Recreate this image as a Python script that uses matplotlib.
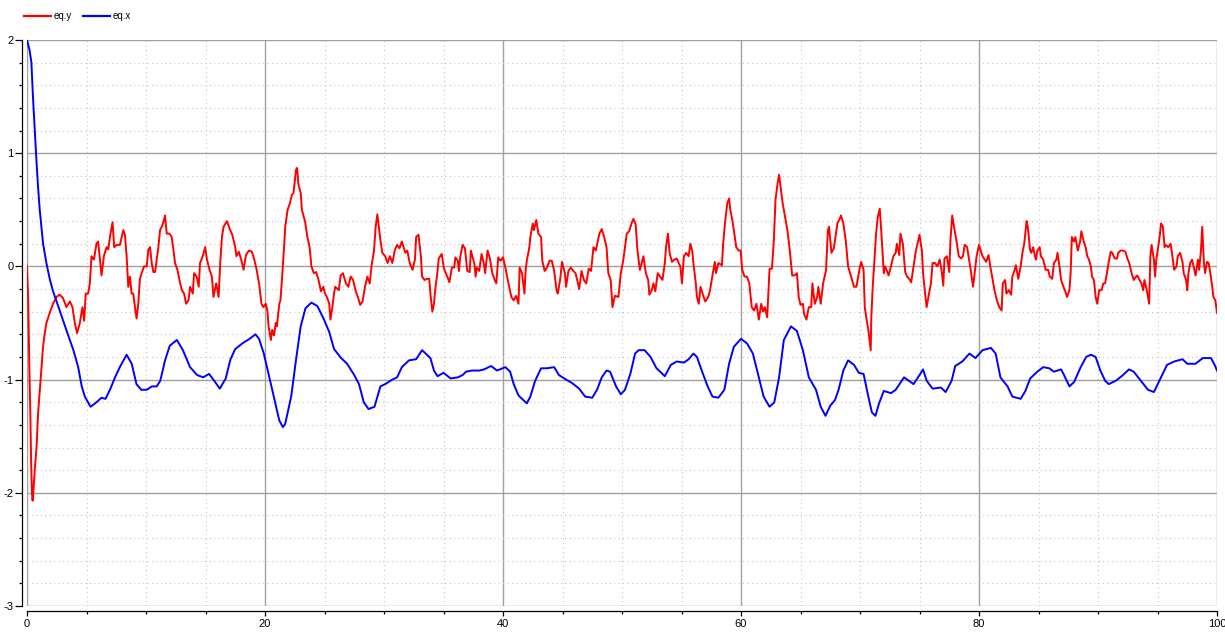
import matplotlib
matplotlib.use("Agg")
import matplotlib.pyplot as plt
import matplotlib.transforms as mtransforms
from matplotlib.ticker import MultipleLocator

plt.rcParams["font.family"] = ["Liberation Sans", "DejaVu Sans"]
plt.rcParams["axes.unicode_minus"] = False

# eq.y (red, noisy) as (time, value) pairs
red = [
    (0.0, 0.0), (0.1, -0.3), (0.2, -0.9), (0.28, -1.3), (0.35, -1.75), (0.42, -2.0),
    (0.47, -2.07), (0.55, -1.97), (0.65, -1.8), (0.8, -1.6), (0.93, -1.3), (1.07, -1.1),
    (1.21, -0.9), (1.35, -0.71), (1.49, -0.59), (1.63, -0.50), (1.91, -0.41), (2.19, -0.33),
    (2.47, -0.27), (2.75, -0.25), (3.03, -0.28), (3.31, -0.36), (3.6, -0.31), (3.82, -0.36),
    (4.02, -0.5), (4.21, -0.59), (4.44, -0.50), (4.66, -0.36), (4.8, -0.48), (4.94, -0.24),
    (5.14, -0.24), (5.28, -0.15), (5.42, 0.09), (5.62, 0.06), (5.84, 0.20), (5.98, 0.22),
    (6.26, -0.08), (6.46, 0.09), (6.69, 0.17), (6.83, 0.15), (6.97, 0.26), (7.19, 0.39),
    (7.33, 0.17), (7.53, 0.19), (7.81, 0.19), (8.09, 0.32), (8.23, 0.28), (8.37, 0.09),
    (8.51, -0.18), (8.65, -0.09), (8.79, -0.24), (8.93, -0.24), (9.07, -0.36), (9.21, -0.46),
    (9.35, -0.33), (9.49, -0.11), (9.63, -0.06), (9.83, 0.0), (10.06, 0.0), (10.2, 0.15),
    (10.34, 0.17), (10.48, 0.03), (10.62, -0.05), (10.76, -0.05), (10.9, 0.06), (11.04, 0.17),
    (11.18, 0.32), (11.32, 0.35), (11.46, 0.39), (11.6, 0.45), (11.74, 0.29), (11.97, 0.29),
    (12.16, 0.26), (12.3, 0.15), (12.44, 0.03), (12.64, -0.03), (12.81, -0.12), (13.01, -0.21),
    (13.2, -0.24), (13.37, -0.33), (13.57, -0.30), (13.71, -0.18), (13.93, -0.24), (14.04, -0.06),
    (14.26, -0.09), (14.43, -0.18), (14.54, 0.03), (14.77, 0.09), (14.97, 0.17), (15.12, 0.06),
    (15.34, -0.03), (15.54, -0.09), (15.67, -0.27), (15.9, -0.15), (16.1, -0.27), (16.24, 0.03),
    (16.38, 0.26), (16.52, 0.35), (16.8, 0.40), (17.0, 0.34), (17.25, 0.28), (17.5, 0.17),
    (17.6, 0.09), (17.8, 0.13), (18.0, 0.06), (18.2, -0.03), (18.4, 0.10), (18.65, 0.14),
    (18.9, 0.13), (19.1, 0.06), (19.3, -0.03), (19.5, -0.15), (19.7, -0.33), (19.86, -0.36),
    (20.06, -0.33), (20.2, -0.39), (20.3, -0.53), (20.5, -0.65), (20.6, -0.56), (20.76, -0.61),
    (20.9, -0.50), (21.0, -0.53), (21.2, -0.33), (21.3, -0.30), (21.46, -0.06), (21.6, 0.17),
    (21.7, 0.35), (21.9, 0.50), (22.1, 0.56), (22.25, 0.63), (22.4, 0.65), (22.6, 0.85),
    (22.7, 0.87), (22.8, 0.73), (23.0, 0.65), (23.1, 0.50), (23.36, 0.40), (23.56, 0.26),
    (23.75, 0.17), (23.9, 0.0), (24.1, -0.06), (24.3, -0.05), (24.5, -0.12), (24.7, -0.22),
    (24.9, -0.18), (25.04, -0.24), (25.2, -0.27), (25.4, -0.33), (25.5, -0.47), (25.66, -0.36),
    (25.8, -0.24), (25.9, -0.18), (26.2, -0.21), (26.36, -0.08), (26.55, -0.06), (26.8, -0.15),
    (27.0, -0.18), (27.2, -0.09), (27.4, -0.12), (27.6, -0.21), (27.8, -0.27), (28.0, -0.34),
    (28.2, -0.31), (28.4, -0.18), (28.6, -0.09), (28.8, -0.15), (28.96, 0.01), (29.16, 0.14),
    (29.3, 0.35), (29.44, 0.46), (29.6, 0.32), (29.7, 0.23), (29.86, 0.12), (30.1, 0.09),
    (30.3, 0.03), (30.5, 0.09), (30.7, 0.03), (30.9, 0.14), (31.1, 0.19), (31.3, 0.16),
    (31.5, 0.22), (31.8, 0.12), (31.96, 0.14), (32.16, 0.03), (32.4, -0.03), (32.6, 0.06),
    (32.7, 0.26), (32.9, 0.28), (33.1, 0.09), (33.2, -0.09), (33.4, -0.12), (33.6, -0.11),
    (33.8, -0.11), (33.9, -0.24), (34.06, -0.40), (34.2, -0.33), (34.3, -0.21), (34.5, -0.04),
    (34.6, 0.07), (34.85, 0.11), (35.04, -0.02), (35.2, -0.06), (35.5, -0.14), (35.7, -0.01),
    (35.9, -0.01), (36.0, 0.08), (36.2, 0.05), (36.3, -0.04), (36.4, 0.08), (36.6, 0.19),
    (36.8, 0.16), (37.0, -0.04), (37.2, -0.05), (37.3, 0.14), (37.6, 0.02), (37.7, -0.09),
    (37.8, -0.01), (38.0, -0.04), (38.2, 0.11), (38.4, 0.02), (38.5, -0.06), (38.7, 0.14),
    (38.9, 0.07), (39.1, -0.06), (39.3, -0.12), (39.44, -0.15), (39.6, 0.08), (39.8, 0.05),
    (40.0, 0.08), (40.2, -0.01), (40.4, -0.12), (40.56, -0.20), (40.7, -0.27), (40.9, -0.30),
    (41.1, -0.26), (41.3, -0.33), (41.4, -0.01), (41.6, -0.06), (41.8, -0.24), (41.9, -0.04),
    (42.0, 0.05), (42.2, 0.16), (42.3, 0.26), (42.5, 0.38), (42.6, 0.32), (42.8, 0.41),
    (42.97, 0.29), (43.2, 0.26), (43.3, 0.05), (43.5, -0.04), (43.7, -0.01), (43.9, 0.05),
    (44.1, 0.05), (44.3, -0.04), (44.5, -0.21), (44.6, -0.24), (44.8, -0.12), (44.96, 0.04),
    (45.2, -0.06), (45.3, -0.18), (45.5, -0.04), (45.7, -0.01), (45.9, -0.04), (46.1, -0.06),
    (46.3, -0.15), (46.4, -0.20), (46.6, -0.04), (46.8, -0.12), (47.0, -0.15), (47.2, -0.02),
    (47.4, -0.04), (47.6, 0.17), (47.8, 0.14), (48.1, 0.29), (48.3, 0.33), (48.5, 0.26),
    (48.7, 0.17), (48.85, -0.06), (49.05, -0.12), (49.2, -0.36), (49.4, -0.26), (49.7, -0.27),
    (49.9, -0.06), (50.1, 0.05), (50.25, 0.17), (50.4, 0.29), (50.6, 0.31), (50.8, 0.38),
    (50.96, 0.42), (51.15, 0.37), (51.3, 0.14), (51.5, -0.03), (51.66, 0.03), (51.8, 0.09),
    (52.0, -0.06), (52.2, -0.12), (52.3, -0.25), (52.5, -0.21), (52.65, -0.15), (52.8, -0.22),
    (53.0, -0.06), (53.2, -0.09), (53.4, -0.12), (53.6, 0.03), (53.7, 0.17), (53.86, 0.29),
    (54.0, 0.12), (54.2, 0.04), (54.4, 0.06), (54.6, 0.07), (54.76, 0.03), (54.9, 0.0),
    (55.04, -0.15), (55.2, 0.09), (55.4, 0.12), (55.6, 0.09), (55.75, 0.20), (55.9, 0.14),
    (56.0, 0.03), (56.2, -0.15), (56.3, -0.27), (56.45, -0.33), (56.6, -0.18), (56.8, -0.25),
    (57.0, -0.31), (57.24, -0.27), (57.4, -0.21), (57.6, -0.08), (57.8, 0.04), (57.9, -0.06),
    (58.1, 0.03), (58.4, 0.01), (58.5, 0.20), (58.65, 0.38), (58.85, 0.56), (59.0, 0.60),
    (59.1, 0.50), (59.27, 0.41), (59.4, 0.32), (59.6, 0.17), (59.8, 0.14), (59.97, 0.14),
    (60.1, -0.03), (60.3, -0.09), (60.5, -0.09), (60.7, -0.15), (60.9, -0.36), (61.1, -0.39),
    (61.3, -0.33), (61.5, -0.47), (61.7, -0.33), (61.86, -0.40), (62.0, -0.36), (62.2, -0.45),
    (62.4, -0.02), (62.6, -0.02), (62.76, 0.23), (62.9, 0.59), (63.07, 0.73), (63.2, 0.81),
    (63.35, 0.68), (63.5, 0.56), (63.7, 0.44), (63.9, 0.32), (64.1, 0.14), (64.3, -0.08),
    (64.5, -0.08), (64.7, -0.06), (64.85, -0.27), (65.0, -0.34), (65.2, -0.33), (65.3, -0.42),
    (65.5, -0.47), (65.7, -0.36), (65.9, -0.36), (66.0, -0.15), (66.2, -0.33), (66.4, -0.27),
    (66.5, -0.18), (66.7, -0.33), (66.9, -0.15), (67.15, -0.03), (67.3, 0.32), (67.4, 0.35),
    (67.6, 0.12), (67.8, 0.16), (67.9, 0.23), (68.1, 0.38), (68.3, 0.42), (68.4, 0.45),
    (68.6, 0.38), (68.8, 0.23), (69.0, 0.0), (69.3, -0.11), (69.5, -0.18), (69.7, -0.18),
    (69.8, -0.12), (70.0, 0.0), (70.1, 0.04), (70.3, -0.03), (70.4, -0.36), (70.6, -0.50),
    (70.7, -0.56), (70.9, -0.74), (70.95, -0.45), (71.07, -0.18), (71.2, 0.03), (71.35, 0.29),
    (71.5, 0.44), (71.66, 0.51), (71.8, 0.29), (72.0, -0.06), (72.1, 0.0), (72.3, -0.05),
    (72.4, -0.08), (72.6, 0.0), (72.8, 0.09), (73.0, 0.12), (73.1, 0.20), (73.3, 0.10),
    (73.4, 0.29), (73.6, 0.20), (73.8, -0.05), (73.96, -0.09), (74.2, -0.12), (74.3, -0.14),
    (74.5, 0.0), (74.7, 0.14), (74.9, 0.23), (75.0, 0.28), (75.2, 0.14), (75.3, -0.06),
    (75.5, -0.27), (75.6, -0.36), (75.8, -0.24), (75.96, -0.15), (76.1, 0.03), (76.3, 0.03),
    (76.5, 0.0), (76.7, 0.06), (76.85, -0.03), (77.0, -0.17), (77.1, 0.07), (77.3, 0.09),
    (77.5, -0.05), (77.6, 0.23), (77.75, 0.45), (77.9, 0.35), (78.1, 0.23), (78.3, 0.09),
    (78.5, 0.07), (78.65, 0.09), (78.8, 0.19), (79.0, 0.17), (79.2, 0.04), (79.3, -0.03),
    (79.5, -0.18), (79.7, 0.0), (79.8, 0.09), (80.0, 0.19), (80.2, 0.12), (80.3, 0.09),
    (80.6, 0.04), (80.8, 0.10), (80.95, 0.0), (81.1, -0.09), (81.3, -0.21), (81.5, -0.30),
    (81.7, -0.36), (81.9, -0.39), (82.0, -0.15), (82.2, -0.12), (82.3, -0.24), (82.5, -0.21),
    (82.7, -0.25), (82.8, -0.09), (83.0, -0.03), (83.1, 0.01), (83.3, -0.11), (83.5, 0.0),
    (83.65, 0.12), (83.8, 0.20), (84.0, 0.40), (84.1, 0.35), (84.3, 0.14), (84.4, 0.12),
    (84.55, 0.17), (84.7, 0.09), (84.8, 0.06), (84.9, 0.14), (85.1, 0.17), (85.2, 0.09),
    (85.4, 0.06), (85.6, -0.03), (85.8, -0.03), (85.95, -0.09), (86.15, -0.11), (86.3, 0.03),
    (86.5, 0.06), (86.6, 0.12), (86.8, -0.03), (86.9, -0.12), (87.1, -0.18), (87.25, -0.22),
    (87.4, -0.27), (87.6, -0.21), (87.7, -0.06), (87.8, 0.26), (87.98, 0.22), (88.1, 0.26),
    (88.3, 0.14), (88.5, 0.22), (88.6, 0.31), (88.8, 0.22), (88.96, 0.17), (89.1, 0.09),
    (89.24, 0.06), (89.4, 0.0), (89.5, -0.09), (89.66, -0.12), (89.8, -0.27), (89.94, -0.33),
    (90.1, -0.21), (90.3, -0.21), (90.45, -0.15), (90.6, -0.15), (90.8, -0.03), (90.9, 0.04),
    (91.07, 0.13), (91.2, 0.12), (91.4, 0.07), (91.6, 0.07), (91.7, 0.12), (91.9, 0.14),
    (92.1, 0.14), (92.3, 0.13), (92.5, 0.06), (92.6, 0.04), (92.8, -0.05), (93.0, -0.12),
    (93.2, -0.09), (93.3, -0.08), (93.45, -0.11), (93.65, -0.15), (93.8, -0.21), (93.9, -0.12),
    (94.1, -0.21), (94.3, -0.33), (94.4, 0.09), (94.5, 0.19), (94.7, 0.06), (94.8, -0.09),
    (94.9, 0.06), (95.1, 0.20), (95.2, 0.28), (95.3, 0.38), (95.45, 0.35), (95.6, 0.17),
    (95.7, 0.19), (95.9, 0.17), (96.1, 0.20), (96.2, 0.13), (96.4, -0.03), (96.6, 0.0),
    (96.7, 0.09), (96.9, 0.12), (97.1, 0.04), (97.2, -0.06), (97.4, -0.12), (97.5, -0.21),
    (97.6, -0.06), (97.75, 0.03), (97.9, 0.06), (98.1, -0.03), (98.2, -0.08), (98.4, 0.06),
    (98.5, -0.03), (98.65, 0.14), (98.76, 0.35), (98.9, 0.03), (99.0, -0.06), (99.16, 0.04),
    (99.3, 0.03), (99.44, -0.06), (99.6, -0.18), (99.7, -0.27), (99.86, -0.30), (100.0, -0.41),
]

# eq.x (blue, smooth) as (time, value) pairs
blue = [
    (0, 2.0), (0.22, 1.91), (0.37, 1.80), (0.5, 1.50), (0.65, 1.21), (0.79, 0.94),
    (0.93, 0.70), (1.07, 0.50), (1.35, 0.20), (1.63, 0.03), (1.91, -0.11), (2.19, -0.22),
    (2.75, -0.39), (3.3, -0.56), (3.9, -0.74), (4.3, -0.89), (4.6, -1.06), (4.86, -1.15),
    (5.34, -1.24), (5.84, -1.20), (6.26, -1.16), (6.6, -1.17), (6.97, -1.09), (7.4, -0.98),
    (7.8, -0.89), (8.37, -0.78), (8.8, -0.86), (9.2, -1.04), (9.6, -1.09), (10.06, -1.09),
    (10.5, -1.06), (10.9, -1.06), (11.2, -1.01), (11.6, -0.83), (12.0, -0.70), (12.6, -0.65),
    (13.1, -0.74), (13.7, -0.89), (14.3, -0.96), (14.8, -0.98), (15.3, -0.95), (15.8, -1.02),
    (16.2, -1.08), (16.7, -0.99), (17.1, -0.82), (17.5, -0.73), (18.1, -0.68), (18.7, -0.64),
    (19.2, -0.60), (19.5, -0.64), (19.9, -0.77), (20.3, -0.95), (20.8, -1.18), (21.2, -1.36),
    (21.5, -1.42), (21.7, -1.39), (22.2, -1.15), (22.6, -0.83), (23.0, -0.53), (23.4, -0.37),
    (23.9, -0.32), (24.4, -0.35), (24.96, -0.47), (25.4, -0.58), (25.8, -0.73), (26.4, -0.81),
    (26.9, -0.86), (27.5, -0.96), (27.9, -1.04), (28.3, -1.20), (28.7, -1.26), (29.2, -1.24),
    (29.7, -1.06), (30.1, -1.04), (30.7, -1.00), (31.1, -0.98), (31.5, -0.89), (32.1, -0.83),
    (32.7, -0.82), (33.2, -0.74), (33.5, -0.77), (33.9, -0.81), (34.2, -0.92), (34.5, -0.97),
    (35.0, -0.94), (35.6, -0.99), (36.2, -0.98), (36.6, -0.96), (36.9, -0.93), (37.4, -0.92),
    (38.0, -0.92), (38.4, -0.91), (39.0, -0.88), (39.5, -0.92), (40.2, -0.89), (40.6, -0.93),
    (40.9, -1.04), (41.3, -1.14), (41.7, -1.18), (42.0, -1.21), (42.3, -1.15), (42.7, -1.01),
    (43.2, -0.90), (43.7, -0.90), (44.3, -0.89), (44.7, -0.96), (45.3, -1.00), (45.8, -1.03),
    (46.4, -1.08), (46.9, -1.15), (47.5, -1.16), (47.9, -1.09), (48.3, -0.98), (48.7, -0.92),
    (49.0, -0.93), (49.5, -1.06), (49.9, -1.13), (50.25, -1.09), (50.7, -0.95), (51.1, -0.77),
    (51.4, -0.74), (51.9, -0.74), (52.4, -0.80), (52.9, -0.90), (53.6, -0.97), (54.1, -0.87),
    (54.6, -0.84), (55.2, -0.85), (55.6, -0.82), (56.0, -0.77), (56.3, -0.80), (56.7, -0.92),
    (57.2, -1.06), (57.6, -1.15), (58.1, -1.16), (58.6, -1.09), (59.0, -0.86), (59.4, -0.71),
    (60.0, -0.64), (60.5, -0.68), (61.0, -0.77), (61.5, -0.98), (61.9, -1.15), (62.4, -1.24),
    (62.8, -1.20), (63.2, -0.98), (63.6, -0.65), (64.2, -0.53), (64.7, -0.57), (65.2, -0.74),
    (65.7, -0.98), (66.3, -1.09), (66.7, -1.24), (67.1, -1.32), (67.5, -1.23), (67.9, -1.18),
    (68.2, -1.09), (68.6, -0.92), (69.0, -0.83), (69.5, -0.87), (69.9, -0.94), (70.3, -0.95),
    (70.7, -1.15), (71.0, -1.29), (71.3, -1.32), (71.6, -1.21), (72.0, -1.10), (72.6, -1.12),
    (73.0, -1.09), (73.7, -0.98), (74.1, -1.01), (74.5, -1.04), (75.0, -0.96), (75.3, -0.91),
    (75.6, -1.01), (76.1, -1.08), (76.8, -1.07), (77.2, -1.11), (77.7, -1.01), (78.0, -0.88),
    (78.6, -0.84), (79.2, -0.77), (79.7, -0.81), (80.3, -0.74), (81.0, -0.72), (81.4, -0.77),
    (81.8, -0.98), (82.4, -1.06), (82.8, -1.15), (83.5, -1.17), (83.9, -1.10), (84.3, -0.99),
    (84.9, -0.93), (85.4, -0.89), (85.9, -0.90), (86.3, -0.93), (86.9, -0.91), (87.1, -0.95),
    (87.6, -1.06), (88.0, -1.02), (88.5, -0.90), (89.0, -0.80), (89.4, -0.78), (89.8, -0.80),
    (90.2, -0.92), (90.6, -1.01), (90.9, -1.04), (91.5, -1.01), (92.1, -0.96), (92.6, -0.91),
    (93.0, -0.93), (93.6, -1.01), (94.2, -1.09), (94.7, -1.11), (95.3, -0.98), (95.8, -0.87),
    (96.4, -0.84), (97.1, -0.82), (97.5, -0.86), (98.2, -0.86), (98.8, -0.81), (99.5, -0.81),
    (99.8, -0.87), (100.0, -0.92),
]

red_t, red_v = zip(*red)
blue_t, blue_v = zip(*blue)

W, H = 1225, 632
fig = plt.figure(figsize=(W / 100, H / 100), dpi=100)
# plot area: x 27..1217 px, y 40..606 px
ax = fig.add_axes([27 / W, (H - 606) / H, 1190 / W, 566 / H])

ax.plot(red_t, red_v, color="#ff0000", lw=1.4, label="eq.y")
ax.plot(blue_t, blue_v, color="#0000ff", lw=1.4, label="eq.x")

ax.set_xlim(0, 100)
ax.set_ylim(-3, 2)
ax.xaxis.set_major_locator(MultipleLocator(20))
ax.xaxis.set_minor_locator(MultipleLocator(5))
ax.yaxis.set_major_locator(MultipleLocator(1))
ax.yaxis.set_minor_locator(MultipleLocator(0.2))

# Grid: solid grey major, dotted light grey minor
ax.grid(which="major", color="#a0a0a0", lw=1.0, ls="-")
ax.grid(which="minor", color="#c4c4c4", lw=0.8, ls=(0, (1, 3)))
ax.set_axisbelow(True)

for side in ("top", "right"):
    ax.spines[side].set_visible(False)
for side in ("left", "bottom"):
    ax.spines[side].set_position(("outward", 3.6))
    ax.spines[side].set_color("black")
    ax.spines[side].set_linewidth(0.9)

ax.tick_params(axis="x", which="major", length=3.5, width=0.9, labelsize=8, pad=2)
ax.tick_params(axis="x", which="minor", length=2.2, width=0.9)
ax.tick_params(axis="y", which="major", length=5, width=0.9, labelsize=8, pad=1)
ax.tick_params(axis="y", which="minor", length=2.2, width=0.9)

# nudge the "100" label a little left so it stays inside the picture
fig.canvas.draw()
last = ax.get_xticklabels()[-1]
last.set_transform(last.get_transform() + mtransforms.ScaledTranslation(-2 / 100, 0, fig.dpi_scale_trans))

# Legend above the plot, top-left
leg = fig.legend(loc="center left", bbox_to_anchor=(24 / W, 1 - 16 / H), ncol=2,
                 frameon=False, fontsize=7, handlelength=2.8, handletextpad=0.25,
                 columnspacing=1.1, borderpad=0, borderaxespad=0)
for line in leg.get_lines():
    line.set_linewidth(1.6)

fig.savefig("out.png", dpi=100)
